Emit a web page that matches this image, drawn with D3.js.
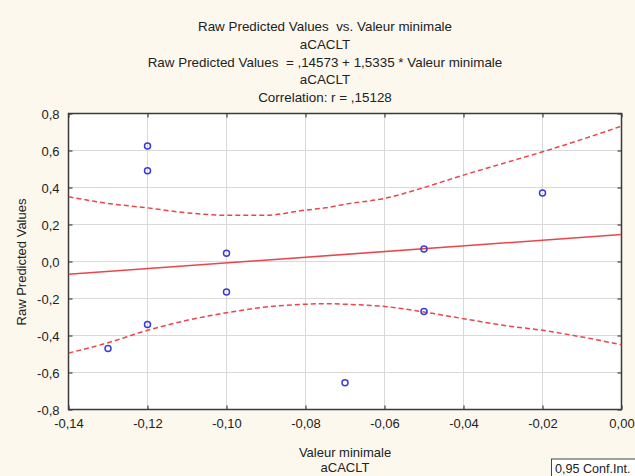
<!DOCTYPE html>
<html><head><meta charset="utf-8">
<script src="https://cdn.jsdelivr.net/npm/d3@7"></script>
<style>html,body{margin:0;padding:0;background:#fcf8ee;}svg{display:block;font-family:"Liberation Sans",Arial,sans-serif;}text{white-space:pre;}</style>
</head><body><svg id="c" width="635" height="476"></svg>
<script>
// ---- data ----
const titleLines = ["Raw Predicted Values  vs. Valeur minimale", "aCACLT", "Raw Predicted Values  = ,14573 + 1,5335 * Valeur minimale", "aCACLT", "Correlation: r = ,15128"];
const xLabel = ["Valeur minimale", "aCACLT"];
const yLabel = "Raw Predicted Values";
const legendLabel = "0,95 Conf.Int.";
const xTicks = [-0.14, -0.12, -0.10, -0.08, -0.06, -0.04, -0.02, 0.00];
const yTicks = [-0.8, -0.6, -0.4, -0.2, 0.0, 0.2, 0.4, 0.6, 0.8];
const pointX = [-0.12, -0.12, -0.10, -0.10, -0.12, -0.13, -0.07, -0.05, -0.05, -0.02];
const pointY = [0.625, 0.49, 0.045, -0.165, -0.34, -0.47, -0.655, 0.068, -0.27, 0.37];
const intercept = 0.14573, slope = 1.5335;
const bandX = [-0.14, -0.13, -0.12, -0.11, -0.10, -0.09, -0.08, -0.075, -0.07, -0.06, -0.05, -0.04, -0.03, -0.02, -0.01, 0.00];
const upperBand = [0.35, 0.314, 0.29, 0.263, 0.25, 0.25, 0.278, 0.29, 0.31, 0.341, 0.40, 0.467, 0.53, 0.593, 0.66, 0.732];
const lowerBand = [-0.495, -0.439, -0.372, -0.318, -0.277, -0.246, -0.231, -0.228, -0.231, -0.243, -0.273, -0.309, -0.345, -0.372, -0.408, -0.45];

// ---- layout ----
const svg = d3.select("#c");
const L = 68.5, R = 621.5, T = 113.5, B = 409.5;
const x = d3.scaleLinear().domain([-0.14, 0]).range([L, R]);
const y = d3.scaleLinear().domain([-0.8, 0.8]).range([B, T]);
const loc = d3.formatLocale({decimal: ",", thousands: ".", grouping: [3], currency: ["", ""], minus: "-"});
const fmtX = d => loc.format(".2f")(Math.abs(d) < 1e-9 ? 0 : d);
const fmtY = d => loc.format(".1f")(Math.abs(d) < 1e-9 ? 0 : d);

svg.append("rect").attr("width", 635).attr("height", 476).attr("fill", "#fcf8ee");
svg.append("rect").attr("x", L).attr("y", T).attr("width", R - L).attr("height", B - T).attr("fill", "#ffffff");

// grid
svg.append("g").selectAll("line").data(xTicks.slice(1, -1)).join("line")
  .attr("x1", d => x(d)).attr("x2", d => x(d)).attr("y1", T).attr("y2", B)
  .attr("stroke", "#d9d9d9").attr("stroke-width", 1);
svg.append("g").selectAll("line").data(yTicks.slice(1, -1)).join("line")
  .attr("y1", d => y(d)).attr("y2", d => y(d)).attr("x1", L).attr("x2", R)
  .attr("stroke", "#d9d9d9").attr("stroke-width", 1);

// axes (inner ticks)
const gx = svg.append("g").attr("transform", `translate(0,${B})`)
  .call(d3.axisBottom(x).tickValues(xTicks).tickFormat(fmtX).tickSize(-4).tickPadding(9));
const gxt = svg.append("g").attr("transform", `translate(0,${T})`)
  .call(d3.axisTop(x).tickValues(xTicks).tickFormat("").tickSize(-4));
const gy = svg.append("g").attr("transform", `translate(${L},0)`)
  .call(d3.axisLeft(y).tickValues(yTicks).tickFormat(fmtY).tickSize(-4).tickPadding(9));
const gyr = svg.append("g").attr("transform", `translate(${R},0)`)
  .call(d3.axisRight(y).tickValues(yTicks).tickFormat("").tickSize(-4));
[gx, gxt, gy, gyr].forEach(g => {
  g.select(".domain").remove();
  g.selectAll(".tick line").attr("stroke", "#444").attr("stroke-width", 1.2);
  g.selectAll("text").attr("font-size", 13).attr("fill", "#222").attr("font-family", "Liberation Sans, Arial, sans-serif");
});
gy.selectAll("text").attr("dy", "0.35em");

// frame
svg.append("rect").attr("x", L).attr("y", T).attr("width", R - L).attr("height", B - T)
  .attr("fill", "none").attr("stroke", "#3a3a3a").attr("stroke-width", 1.5);

// clip
svg.append("clipPath").attr("id", "clip").append("rect").attr("x", L).attr("y", T).attr("width", R - L).attr("height", B - T);
const plot = svg.append("g").attr("clip-path", "url(#clip)");

// regression line
const lineX = [-0.14, 0];
plot.append("line").attr("x1", x(lineX[0])).attr("y1", y(intercept + slope * lineX[0]))
  .attr("x2", x(lineX[1])).attr("y2", y(intercept + slope * lineX[1]))
  .attr("stroke", "#e8464c").attr("stroke-width", 1.6);

// confidence bands
const band = d3.line().x((d, i) => x(bandX[i])).y(d => y(d)).curve(d3.curveMonotoneX);
[upperBand, lowerBand].forEach(b => {
  plot.append("path").attr("d", band(b)).attr("fill", "none")
    .attr("stroke", "#e8464c").attr("stroke-width", 1.5).attr("stroke-dasharray", "5,3");
});

// points
plot.append("g").selectAll("circle").data(pointX).join("circle")
  .attr("cx", d => x(d)).attr("cy", (d, i) => y(pointY[i])).attr("r", 3)
  .attr("fill", "none").attr("stroke", "#3b3bd6").attr("stroke-width", 1.5);

// titles
svg.append("g").selectAll("text").data(titleLines).join("text")
  .attr("x", 325).attr("y", (d, i) => 31 + i * 17.8).attr("text-anchor", "middle")
  .attr("font-size", 13.4).attr("fill", "#222").text(d => d);

svg.append("g").selectAll("text").data(xLabel).join("text")
  .attr("x", 345).attr("y", (d, i) => 456.5 + i * 15.5).attr("text-anchor", "middle")
  .attr("font-size", 13).attr("fill", "#222").text(d => d);

svg.append("text").attr("transform", "translate(26,262) rotate(-90)").attr("text-anchor", "middle")
  .attr("font-size", 13).attr("fill", "#222").text(yLabel);

// legend box
svg.append("rect").attr("x", 551.5).attr("y", 459).attr("width", 100).attr("height", 30)
  .attr("fill", "#ffffff").attr("stroke", "#444").attr("stroke-width", 1);
svg.append("text").attr("x", 555).attr("y", 472.5).attr("font-size", 12.6).attr("fill", "#222").text(legendLabel);
</script></body></html>
